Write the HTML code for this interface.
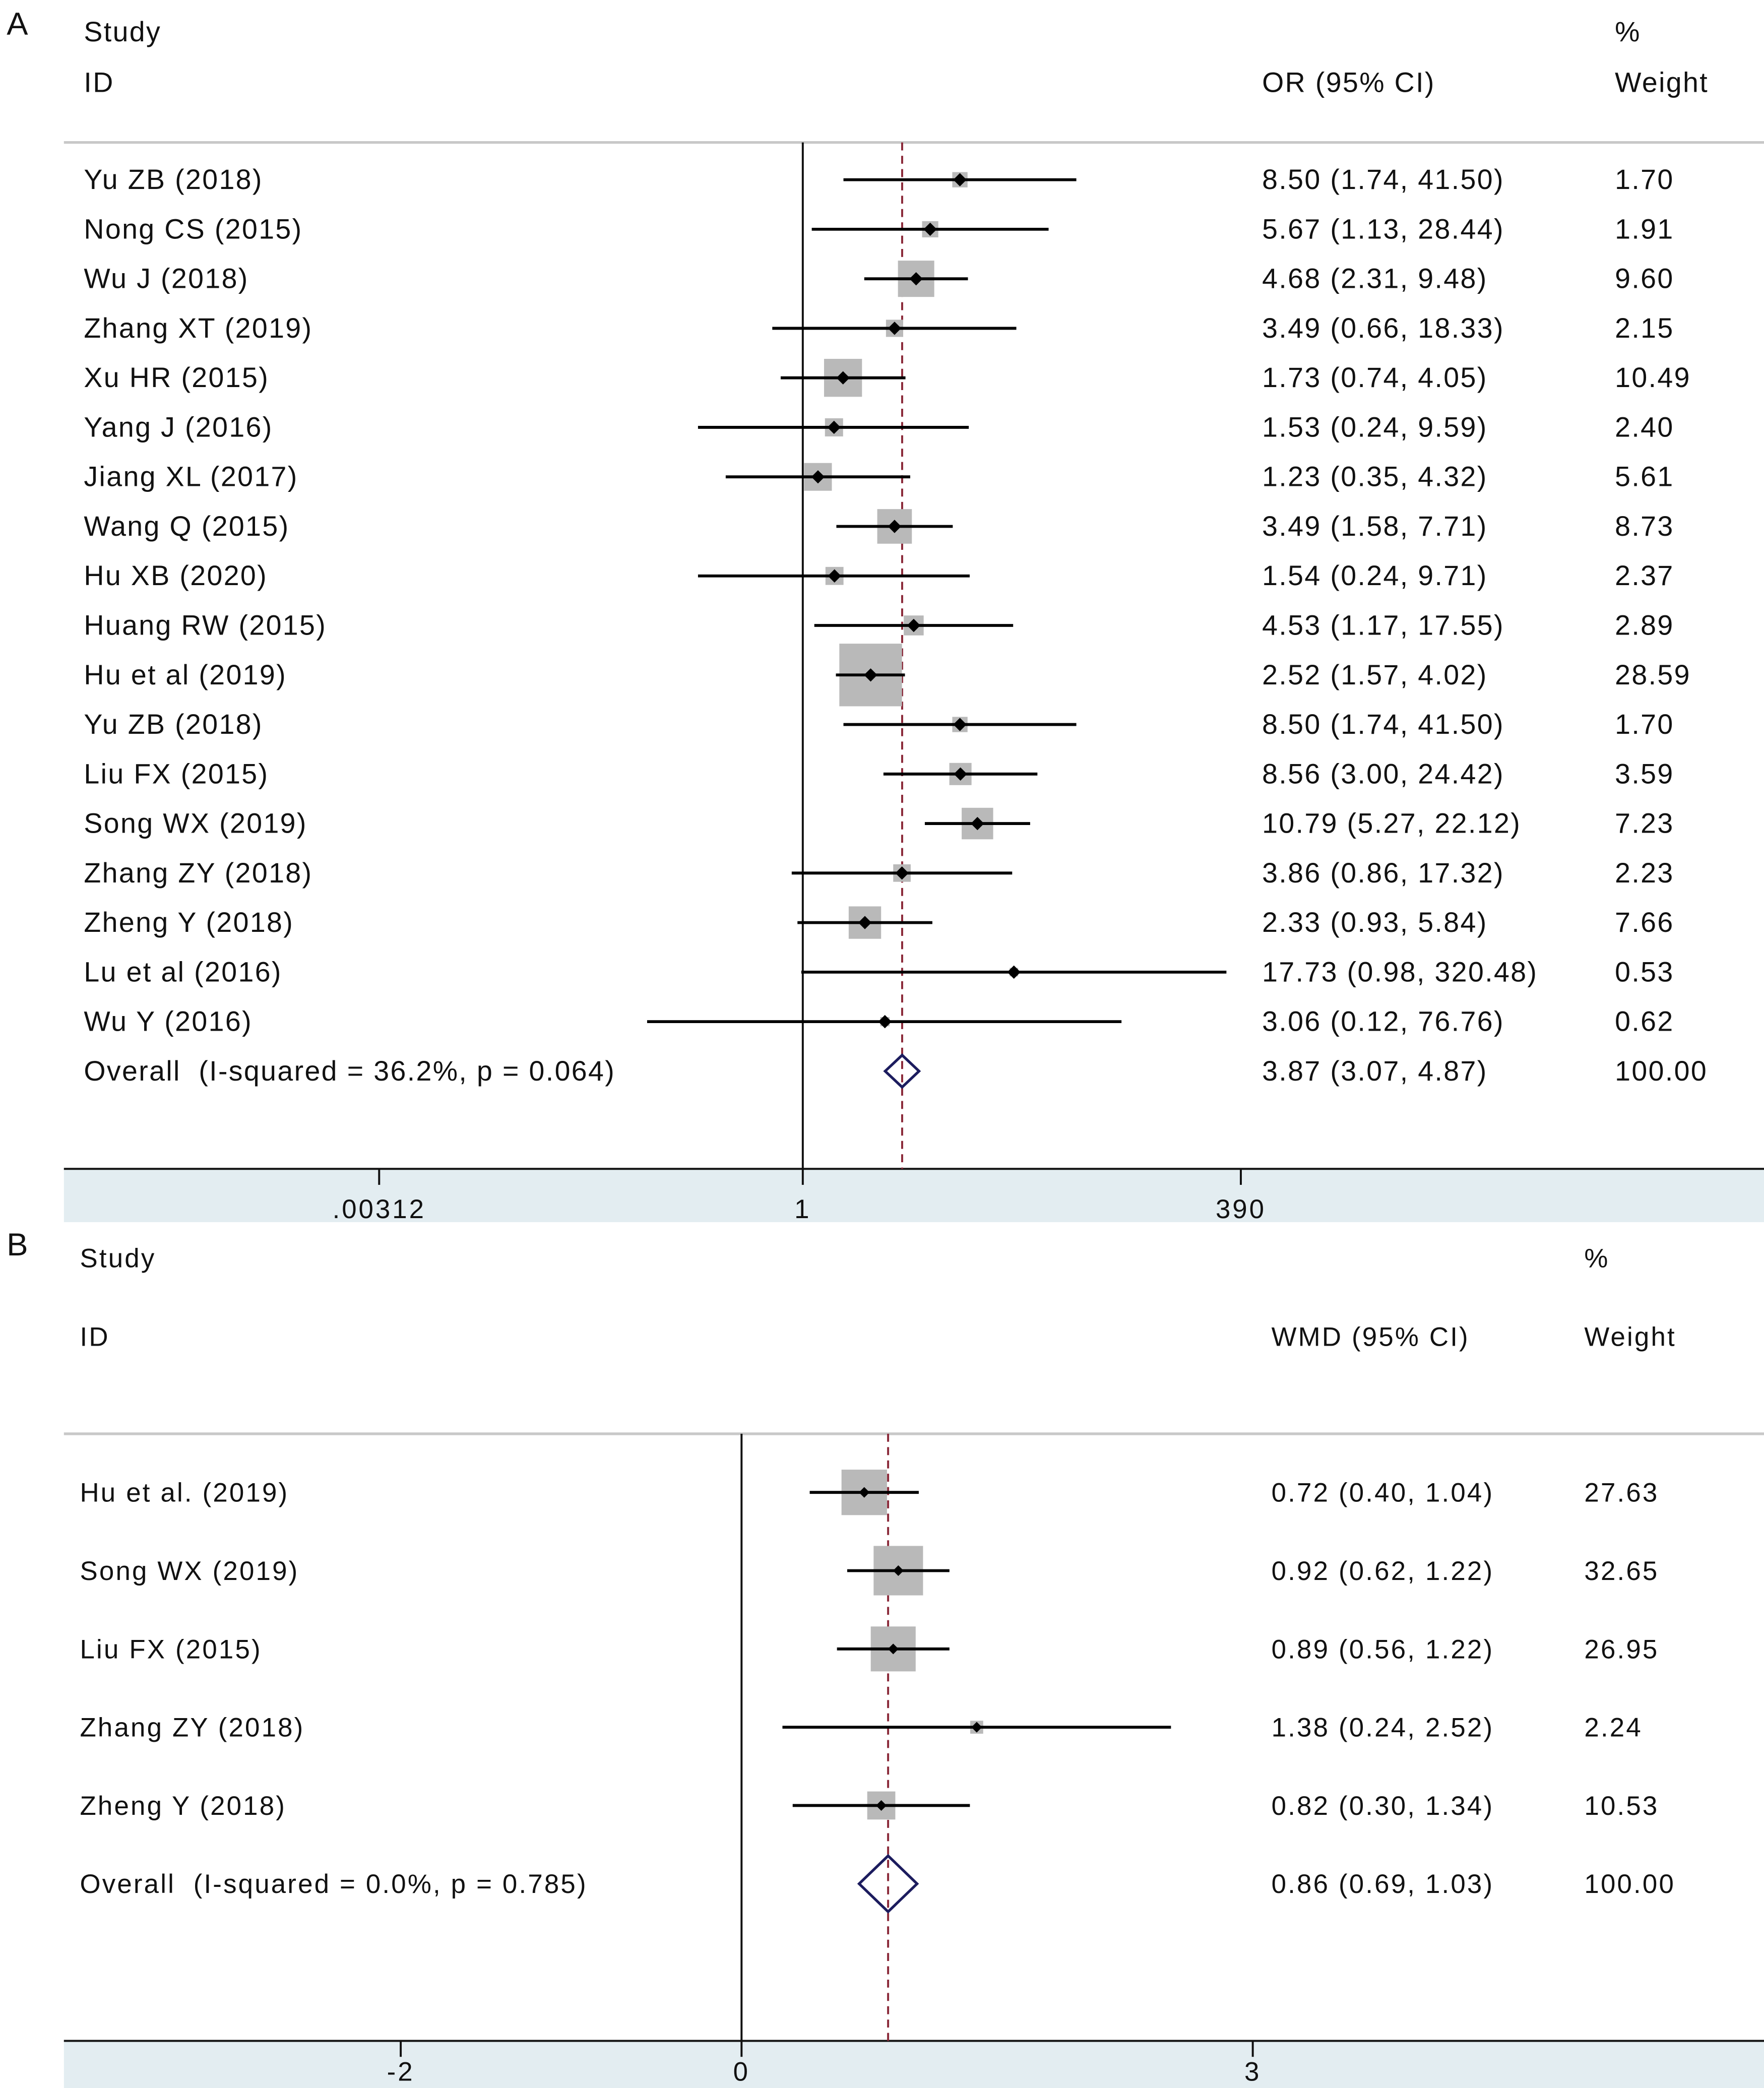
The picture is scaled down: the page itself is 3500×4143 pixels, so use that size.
<!DOCTYPE html>
<html><head><meta charset="utf-8"><style>html,body{margin:0;padding:0;background:#fff;overflow:hidden}svg{display:block}text{font-family:"Liberation Sans",Arial,sans-serif;fill:#111;white-space:pre}</style></head>
<body>
<svg id="chart" width="3500" height="4143" viewBox="0 0 1325 1568.4" xmlns="http://www.w3.org/2000/svg" xml:space="preserve">
<rect x="0" y="0" width="1325" height="1569" fill="#fff"/>
<g id="panelA"></g>
<g id="panelB"></g>
</svg>
<script>
// Panel A data
const studiesA = ["Yu ZB (2018)","Nong CS (2015)","Wu J (2018)","Zhang XT (2019)","Xu HR (2015)","Yang J (2016)","Jiang XL (2017)","Wang Q (2015)","Hu XB (2020)","Huang RW (2015)","Hu et al (2019)","Yu ZB (2018)","Liu FX (2015)","Song WX (2019)","Zhang ZY (2018)","Zheng Y (2018)","Lu et al (2016)","Wu Y (2016)"];
const estA = [8.50,5.67,4.68,3.49,1.73,1.53,1.23,3.49,1.54,4.53,2.52,8.50,8.56,10.79,3.86,2.33,17.73,3.06];
const lowA = [1.74,1.13,2.31,0.66,0.74,0.24,0.35,1.58,0.24,1.17,1.57,1.74,3.00,5.27,0.86,0.93,0.98,0.12];
const highA = [41.50,28.44,9.48,18.33,4.05,9.59,4.32,7.71,9.71,17.55,4.02,41.50,24.42,22.12,17.32,5.84,320.48,76.76];
const weightA = [1.70,1.91,9.60,2.15,10.49,2.40,5.61,8.73,2.37,2.89,28.59,1.70,3.59,7.23,2.23,7.66,0.53,0.62];
const pooledA = [3.87,3.07,4.87];
const overallLabelA = "Overall  (I-squared = 36.2%, p = 0.064)";
const ticksA = [0.00312,1,390];
const tickLabelsA = [".00312","1","390"];
// Panel B data
const studiesB = ["Hu et al. (2019)","Song WX (2019)","Liu FX (2015)","Zhang ZY (2018)","Zheng Y (2018)"];
const estB = [0.72,0.92,0.89,1.38,0.82];
const lowB = [0.40,0.62,0.56,0.24,0.30];
const highB = [1.04,1.22,1.22,2.52,1.34];
const weightB = [27.63,32.65,26.95,2.24,10.53];
const pooledB = [0.86,0.69,1.03];
const overallLabelB = "Overall  (I-squared = 0.0%, p = 0.785)";
const ticksB = [-2,0,3];
const tickLabelsB = ["-2","0","3"];

const NS="http://www.w3.org/2000/svg";
function mk(parent,tag,attrs,txt){const e=document.createElementNS(NS,tag);for(const k in attrs)e.setAttribute(k,attrs[k]);if(txt!==undefined)e.textContent=txt;parent.appendChild(e);return e;}
const f=v=>v.toFixed(2);

function panel(g,cfg){
  const {x,studies,est,low,high,weight,pooled,overallLabel,ticks,tickLabels}=cfg;
  const ls=cfg.ls;
  let t;
  t=mk(g,'text',{x:5,y:cfg.letterY,'font-size':24},cfg.letter);
  
  
  t=mk(g,'text',{x:cfg.lx,y:cfg.h1,'font-size':cfg.fs,'letter-spacing':ls},'Study');
  
  
  t=mk(g,'text',{x:cfg.lx,y:cfg.h2,'font-size':cfg.fs,'letter-spacing':ls},'ID');
  
  
  t=mk(g,'text',{x:cfg.ex,y:cfg.h2,'font-size':cfg.fs,'letter-spacing':ls},cfg.estHeader);
  
  
  t=mk(g,'text',{x:cfg.wx,y:cfg.h1,'font-size':cfg.fs,'letter-spacing':ls},'%');
  
  
  t=mk(g,'text',{x:cfg.wx,y:cfg.h2,'font-size':cfg.fs,'letter-spacing':ls},'Weight');
  
  
  let l=mk(g,'line',{x1:48,x2:1325,y1:cfg.top,y2:cfg.top,stroke:'#c8c8c8','stroke-width':2});
  
  
  let r=mk(g,'rect',{x:48,y:cfg.axisY,width:1277,height:cfg.bandH,fill:'#e3edf1'});
  
  
  l=mk(g,'line',{x1:48,x2:1325,y1:cfg.axisY,y2:cfg.axisY,stroke:'#111','stroke-width':1.5});
  
  
  ticks.forEach((tv,i)=>{
    const tx=x(tv);
    let tk=mk(g,'line',{x1:tx,x2:tx,y1:cfg.axisY,y2:cfg.axisY+12,stroke:'#111','stroke-width':1.5});
    
    
    let tl=mk(g,'text',{x:tx,y:cfg.axisY+cfg.tickDy,'font-size':20,'text-anchor':'middle','letter-spacing':1.5},tickLabels[i]);
    
    
  });
  l=mk(g,'line',{x1:x(cfg.nullVal),x2:x(cfg.nullVal),y1:cfg.top,y2:cfg.axisY,stroke:'#111','stroke-width':1.5});
  
  
  l=mk(g,'line',{x1:x(pooled[0]),x2:x(pooled[0]),y1:cfg.top,y2:cfg.axisY,stroke:'#8b2a3a','stroke-width':1.5,'stroke-dasharray':'6,4'});
  
  
  studies.forEach((s,i)=>{
    const y=cfg.r0+i*cfg.dy;
    const sz=cfg.bs*Math.sqrt(weight[i]);
    let b=mk(g,'rect',{x:x(est[i])-sz/2,y:y-sz/2,width:sz,height:sz,fill:'#b9b9b9'});
    
    
    let ci=mk(g,'line',{x1:x(low[i]),x2:x(high[i]),y1:y,y2:y,stroke:'#000','stroke-width':2.2});
    
    
    const d=cfg.dot, xe=x(est[i]);
    let p=mk(g,'polygon',{points:`${xe-d},${y} ${xe},${y-d} ${xe+d},${y} ${xe},${y+d}`,fill:'#000'});
    
    
    let tx=mk(g,'text',{x:cfg.lx,y:y+7,'font-size':cfg.fs,'letter-spacing':ls},s);
    
    
    tx=mk(g,'text',{x:cfg.ex,y:y+7,'font-size':cfg.fs,'letter-spacing':ls},`${f(est[i])} (${f(low[i])}, ${f(high[i])})`);
    
    
    tx=mk(g,'text',{x:cfg.wx,y:y+7,'font-size':cfg.fs,'letter-spacing':ls},f(weight[i]));
    
    
  });
  const oy=cfg.r0+studies.length*cfg.dy, h=cfg.dh;
  let dm=mk(g,'polygon',{points:`${x(pooled[1])},${oy} ${x(pooled[0])},${oy-h} ${x(pooled[2])},${oy} ${x(pooled[0])},${oy+h}`,fill:'none',stroke:'#1c1c5e','stroke-width':2});
  
  
  let ot=mk(g,'text',{x:cfg.lx,y:oy+7,'font-size':cfg.fs,'letter-spacing':ls},overallLabel);
  
  
  ot=mk(g,'text',{x:cfg.ex,y:oy+7,'font-size':cfg.fs,'letter-spacing':ls},`${f(pooled[0])} (${f(pooled[1])}, ${f(pooled[2])})`);
  
  
  ot=mk(g,'text',{x:cfg.wx,y:oy+7,'font-size':cfg.fs,'letter-spacing':ls},'100.00');
  
  
}

const xA=v=>603+55.15*Math.log(v);
const xB=v=>557+128*v;
panel(document.getElementById('panelA'),{x:xA,studies:studiesA,est:estA,low:lowA,high:highA,weight:weightA,pooled:pooledA,overallLabel:overallLabelA,ticks:ticksA,tickLabels:tickLabelsA,
  letter:'A',letterY:26,lx:63,ex:948,wx:1213,h1:31,h2:69,fs:21,ls:0.9,estHeader:'OR (95% CI)',top:107,axisY:878,bandH:40,tickDy:37,r0:135,dy:37.2,bs:8.8,dot:5,dh:12,nullVal:1});
panel(document.getElementById('panelB'),{x:xB,studies:studiesB,est:estB,low:lowB,high:highB,weight:weightB,pooled:pooledB,overallLabel:overallLabelB,ticks:ticksB,tickLabels:tickLabelsB,
  letter:'B',letterY:943,lx:60,ex:955,wx:1190,h1:952,h2:1011,fs:20,ls:1.2,estHeader:'WMD (95% CI)',top:1077,axisY:1533,bandH:36,tickDy:30,r0:1121,dy:58.8,bs:6.5,dot:4,dh:21,nullVal:0});
</script>
</body></html>
